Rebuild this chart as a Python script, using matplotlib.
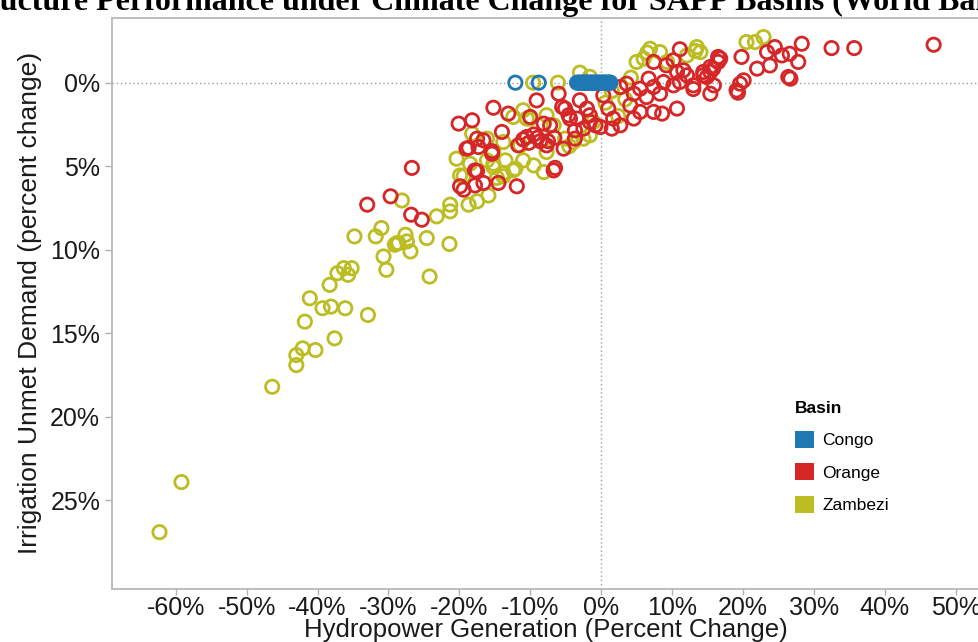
import matplotlib
matplotlib.use("Agg")
import matplotlib.pyplot as plt
from matplotlib.patches import Patch
from matplotlib.ticker import FuncFormatter

plt.rcParams['font.family'] = ['Liberation Sans', 'DejaVu Sans']

# values (percent change)
congo_x = [-12.1, -8.8, -3.4, -3.2, -3.0, -2.8, -2.6, -2.4, -2.2,
           -2.0, -1.8, -1.6, -1.4, -1.2, -1.0, -0.8, -0.6, -0.4, -0.2, 0.0, 0.2,
           0.4, 0.6, 0.8, 1.0, 1.2, 1.3]
congo_y = [0.0] * len(congo_x)

orange_x = [-33.0, -29.7, -26.7, -26.8, -25.3, -20.1, -18.2, -15.2, -13.1, -9.1,
            -17.5, -16.6, -18.7, -15.4, -14.0, -10.5, -9.5, -8.6, -8.1, -7.2,
            -5.1, -4.4, -3.7, -2.0, -1.6, -5.3, -6.5, -19.9, -19.4, -17.5,
            -16.6, -14.5, -11.9, -19.0, -17.3, -15.4, -11.0, -10.2, -9.0, -7.5,
            -6.6, -11.7, -7.7, -6.7, -17.8, -17.8, -10.0, -6.0, -5.5, -4.6,
            -3.0, -3.4, -2.5, -1.6, -0.8, 0.3, 1.0, 1.7, 2.7, 1.5,
            -0.1, -3.7, 2.7, 3.6, 4.6, 5.5, 6.4, 7.4, 8.3, 6.7,
            8.8, 10.2, 11.1, 12.1, 13.0, 10.7, 11.6, 14.4, 15.4, 15.8,
            16.5, 16.8, 4.1, 5.5, 7.4, 8.6, 10.7, 4.6, 11.1, 7.4,
            9.2, 10.2, 46.9, 35.7, 32.5, 28.3, 26.4, 27.8, 26.6, 25.5,
            24.5, 23.4, 23.8, 22.0, 19.8, 20.1, 19.1, 16.5, 15.4, 14.9,
            15.9, 15.4, 14.4, 19.6, 19.3, 13.0, 26.7]
orange_y = [7.3, 6.8, 5.1, 7.9, 8.2, 2.45, 2.25, 1.5, 1.85, 1.06,
            3.35, 3.45, 3.9, 4.1, 2.95, 3.25, 3.1, 3.5, 2.45, 2.55,
            1.55, 2.15, 2.85, 1.55, 2.35, 3.95, 5.1, 6.2, 6.4, 5.3,
            6.0, 6.0, 6.2, 3.95, 3.85, 4.25, 3.4, 3.6, 3.3, 3.5,
            3.3, 3.75, 3.75, 5.25, 5.25, 6.15, 2.05, 0.66, 1.45, 1.95,
            1.05, 2.15, 2.75, 1.95, 2.55, 0.76, 1.55, 2.15, 2.55, 2.75,
            2.65, 3.35, 0.26, 0.06, 0.66, 0.36, 0.86, 0.26, 0.66, -0.24,
            -0.04, 0.16, -0.04, -0.44, 0.16, -0.64, -0.74, -0.44, -0.64, -0.84,
            -1.24, -1.44, 1.36, 1.75, 1.75, 1.85, 1.55, 2.15, -2.0, -1.24,
            -1.04, -1.34, -2.27, -2.07, -2.07, -2.33, -0.34, -1.24, -1.73, -1.63,
            -2.13, -1.83, -1.03, -0.84, -1.54, -0.14, 0.46, -1.54, -0.94, -0.34,
            0.16, 0.66, -0.64, 0.06, 0.6, 0.38, -0.24]

zambezi_x = [-62.3, -59.2, -46.4, -43.0, -43.0, -42.1, -40.3, -37.6, -41.8, -41.1,
             -39.3, -38.1, -36.1, -38.3, -37.2, -36.3, -35.2, -35.7, -32.9, -34.8,
             -31.8, -31.0, -30.7, -30.3, -29.1, -28.6, -27.6, -27.4, -26.9, -28.8,
             -28.1, -24.6, -21.4, -24.2, -23.2, -21.3, -18.7, -19.4, -20.4, -17.5,
             -15.9, -16.1, -15.2, -13.5, -12.4, -11.0, -8.1, -14.7, -13.8, -18.2,
             -13.8, -11.4, -10.5, -7.7, -5.1, -2.5, -1.6, -18.5, -15.2, -12.1,
             -9.5, -19.9, -21.3, -13.8, -16.1, -15.2, -12.4, -11.0, -10.0, -7.7,
             -6.7, -3.9, -1.1, -9.6, -6.1, -3.0, -1.6, 5.0, 6.0, 6.9,
             8.3, 9.3, 12.1, 13.5, 14.0, 20.5, 21.7, 22.9, 6.5, 13.3,
             0.6, 2.4, 3.4, 4.2, 1.5, -4.5]
zambezi_y = [26.9, 23.9, 18.2, 16.9, 16.3, 15.9, 16.0, 15.3, 14.3, 12.9,
             13.5, 13.4, 13.5, 12.1, 11.4, 11.1, 11.1, 11.5, 13.9, 9.2,
             9.2, 8.7, 10.4, 11.2, 9.7, 9.6, 9.1, 9.5, 10.1, 9.6,
             7.05, 9.3, 9.65, 11.6, 8.0, 7.7, 7.3, 5.6, 4.55, 7.1,
             6.75, 4.65, 4.85, 4.65, 5.25, 4.65, 5.35, 5.7, 5.4, 3.05,
             3.55, 3.75, 2.15, 4.15, 3.35, 3.35, 3.15, 4.85, 5.05, 5.15,
             4.95, 5.55, 7.3, 5.6, 3.35, 4.15, 2.05, 1.65, 2.15, 1.95,
             2.55, 3.55, 2.35, 0.0, 0.0, -0.6, -0.35, -1.24, -1.44, -2.03,
             -1.83, -1.24, -1.63, -2.13, -1.83, -2.43, -2.43, -2.73, -1.8, -1.9,
             1.2, 2.0, 1.0, -0.3, 0.5, 3.8]

basins = ['Congo', 'Orange', 'Zambezi']
colors = {'Congo': '#1f77b4', 'Orange': '#d62728', 'Zambezi': '#bcbd22'}
xticks = list(range(-60, 51, 10))
yticks = list(range(0, 26, 5))

W, H = 979, 642
fig = plt.figure(figsize=(W / 100, H / 100), dpi=100)
ax = fig.add_axes([112 / W, 1 - 589 / H, 1 - 112 / W, (589 - 17.5) / H])

mk = dict(s=92, facecolors='none', linewidths=2.0)
ax.scatter(zambezi_x, zambezi_y, edgecolors=colors['Zambezi'], **mk)
ax.scatter(orange_x, orange_y, edgecolors=colors['Orange'], **mk)
ax.scatter(congo_x, congo_y, edgecolors=colors['Congo'], **mk)

ax.axhline(0, color='#9a9a9a', lw=1, ls=(0, (1, 2)), zorder=0)
ax.axvline(0, color='#9a9a9a', lw=1, ls=(0, (1, 2)), zorder=0)

ax.set_xlim(-69.0, 53.3)
ax.set_ylim(30.3, -3.9)
ax.set_xticks(xticks)
ax.set_yticks(yticks)
pct = FuncFormatter(lambda v, p: '%d%%' % v)
ax.xaxis.set_major_formatter(pct)
ax.yaxis.set_major_formatter(pct)
ax.tick_params(labelsize=18, color='#b0b0b0', length=5, width=1, labelcolor='#1a1a1a')
ax.tick_params(axis='x', length=4, pad=1)

for side in ['left', 'top', 'bottom']:
    ax.spines[side].set_color('#b8b8b8')
    ax.spines[side].set_linewidth(1.3)
ax.spines['right'].set_visible(False)

ax.set_ylabel('Irrigation Unmet Demand (percent change)', fontsize=19, color='#1a1a1a', labelpad=6)
fig.text(545.5 / W, 1 - 637 / H, 'Hydropower Generation (Percent Change)',
         fontsize=18.5, color='#1a1a1a', ha='center', va='baseline')

handles = [Patch(facecolor=colors[b], edgecolor='none') for b in basins]
leg = fig.legend(handles, basins, title='Basin', loc='upper left',
                 bbox_to_anchor=(779 / W, 1 - 385 / H), frameon=False,
                 fontsize=12.5, title_fontsize=12.5, handlelength=1.1, handleheight=1.1,
                 labelspacing=0.88, handletextpad=0.5, alignment='left')
leg.get_title().set_fontweight('bold')

# title sits partly outside the canvas, as in the source image
title = 'Infrastructure Performance under Climate Change for SAPP Basins (World Bank 2015)'
tfont = dict(family='Liberation Serif', weight='bold', size=23)
r = fig.canvas.get_renderer()
probe = fig.text(0, 0, 'Infrastr', **tfont)
w = probe.get_window_extent(r).width
probe.remove()
fig.text(-w / W, 1 - 10 / H, title, va='baseline', ha='left', **tfont)

fig.savefig('out.png', dpi=100)
